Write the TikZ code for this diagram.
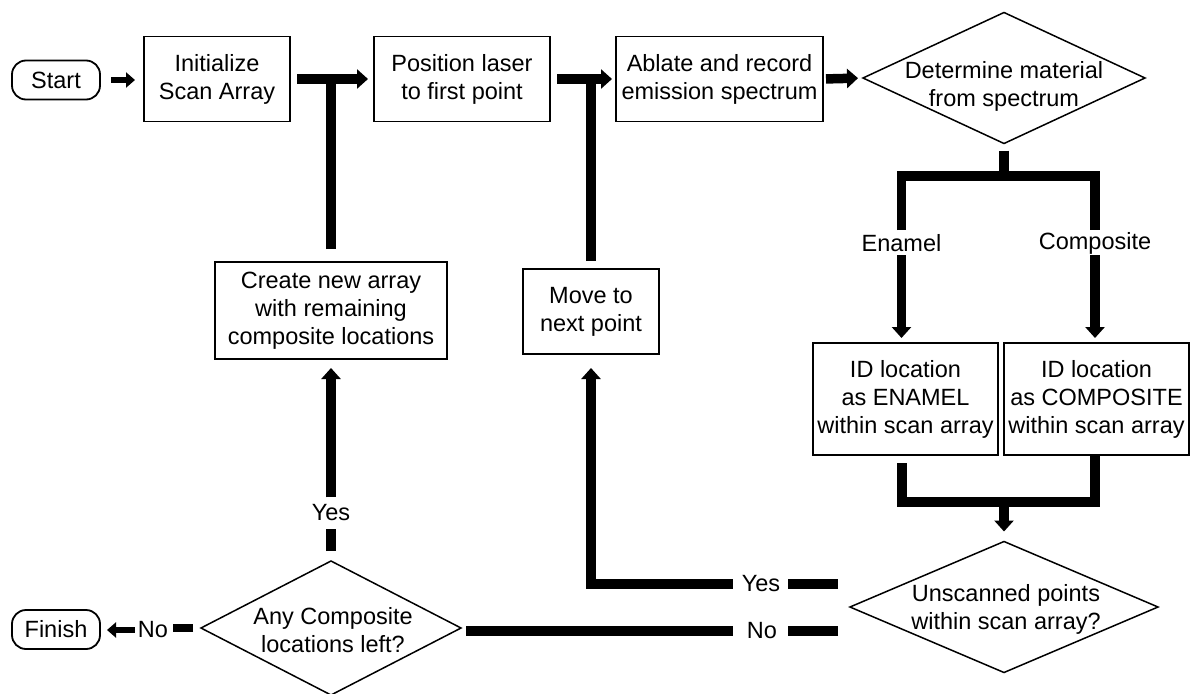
\documentclass[tikz,border=0pt]{standalone}
\usepackage{fontspec}
\setmainfont{Liberation Sans}
\usetikzlibrary{shapes.geometric,arrows.meta}
\newcommand\dfont{\fontsize{23.5}{28}\selectfont}
\begin{document}
\begin{tikzpicture}[x=1pt,y=-1pt,
  box/.style={draw,line width=1.8pt,align=center,inner sep=0pt,outer sep=0pt,font=\dfont},
  term/.style={draw,line width=1.8pt,rounded corners=14pt,minimum width=88pt,minimum height=39pt,inner sep=0pt,outer sep=0pt,font=\dfont},
  dec/.style={draw,diamond,line width=1.5pt,inner sep=0pt,outer sep=0pt},
  lbl/.style={inner sep=0pt,outer sep=0pt,align=center,font=\dfont},
  conn/.style={line width=9.5pt},
  thin/.style={line width=6pt},
  arr/.style={-{Triangle[length=11pt,width=19pt]}},
  sarr/.style={-{Triangle[length=9pt,width=15pt]}}
]
\useasboundingbox (0,0) rectangle (1193,693);
% nodes
\node[term] (start) at (56,80) {Start};
\node[box,minimum width=146pt,minimum height=85pt] (init) at (217,79) {Initialize\\Scan Array};
\node[box,minimum width=176pt,minimum height=85pt] (pos) at (462,79) {Position laser\\to first point};
\node[box,minimum width=207pt,minimum height=85pt] (abl) at (719.5,79) {Ablate and record\\emission spectrum};
\node[dec,minimum width=282pt,minimum height=131pt] (det) at (1004,78) {};
\node[lbl] (dett) at (1004,86) {Determine material\\from spectrum};
\node[lbl] (enam) at (901.5,243) {Enamel};
\node[lbl] (comp) at (1095,243) {Composite};
\node[box,minimum width=185pt,minimum height=112pt] (ide) at (905.5,399) {ID location\\as ENAMEL\\within scan array};
\node[box,minimum width=185pt,minimum height=112pt] (idc) at (1096.5,399) {ID location\\as COMPOSITE\\within scan array};
\node[dec,minimum width=308pt,minimum height=131pt] (uns) at (1004,607) {};
\node[lbl] (unst) at (1006,609) {Unscanned points\\within scan array?};
\node[box,minimum width=136pt,minimum height=85pt] (move) at (591,311.5) {Move to\\next point};
\node[box,minimum width=232pt,minimum height=97pt] (crea) at (331,310.5) {Create new array\\with remaining\\composite locations};
\node[dec,minimum width=260pt,minimum height=134pt] (any) at (331,628) {};
\node[lbl] (anyt) at (333,630) {Any Composite\\locations left?};
\node[term] (fin) at (56,629.5) {Finish};
\node[lbl] (ys1) at (761,584) {Yes};
\node[lbl] (no1) at (762,631) {No};
\node[lbl] (ys2) at (331,513) {Yes};
\node[lbl] (no2) at (153,630) {No};
% coordinates
\coordinate (eA) at (901.5,230);
\coordinate (eB) at (901.5,255);
\coordinate (cA) at (1095,230);
\coordinate (cB) at (1095,255);
\coordinate (bl) at (901.5,176);
\coordinate (br) at (1095,176);
\coordinate (ml) at (902,502);
\coordinate (mr) at (1095,502);
\coordinate (ysA) at (838,584);
\coordinate (noA) at (838,631);
% connectors
\draw[thin,sarr,shorten <=11pt,shorten >=9pt] (start.east) -- (start.east -| init.west);
\draw[conn,arr,shorten <=7pt,shorten >=6pt] (init.east) -- (pos.west);
\draw[conn,shorten <=13pt] (crea.north) -- (crea.north |- init.east);
\draw[conn,arr,shorten <=7pt,shorten >=4pt] (pos.east) -- (abl.west);
\draw[conn,shorten <=8pt] (move.north) -- (move.north |- pos.east);
\draw[conn,arr,shorten <=3pt,shorten >=5pt] (abl.east) -- (det.west);
\draw[conn,shorten <=7pt] (det.south) -- (det.south |- bl);
\draw[conn] (eA) -- (bl) -- (br) -- (cA);
\draw[conn,arr,shorten >=5pt] (eB) -- (eB |- ide.north);
\draw[conn,arr,shorten >=5pt] (cB) -- (cB |- idc.north);
\draw[conn,shorten <=8pt] (ide.south -| ml) -- (ml) -- (mr) -- (idc.south -| mr);
\draw[conn,arr,shorten >=10pt] (uns.north |- ml) -- (uns.north);
\draw[conn,shorten >=8pt] (ysA) -- (ys1.east);
\draw[conn,arr,shorten <=9pt,shorten >=14pt] (ys1.west) -- (ys1.west -| move.south) -- (move.south);
\draw[conn,shorten >=11pt] (noA) -- (no1.east);
\draw[conn,shorten <=14pt,shorten >=5pt] (no1.west) -- (no1.west -| any.east);
\draw[conn,shorten <=10pt,shorten >=7.5pt] (any.north) -- (ys2.south);
\draw[conn,arr,shorten <=7.5pt,shorten >=9pt] (ys2.north) -- (crea.south);
\draw[line width=8pt,shorten <=8pt,shorten >=5pt] (any.west) -- (any.west -| no2.east);
\draw[thin,sarr,shorten <=3pt,shorten >=7pt] (no2.west) -- (no2.west -| fin.east);
\end{tikzpicture}
\end{document}
